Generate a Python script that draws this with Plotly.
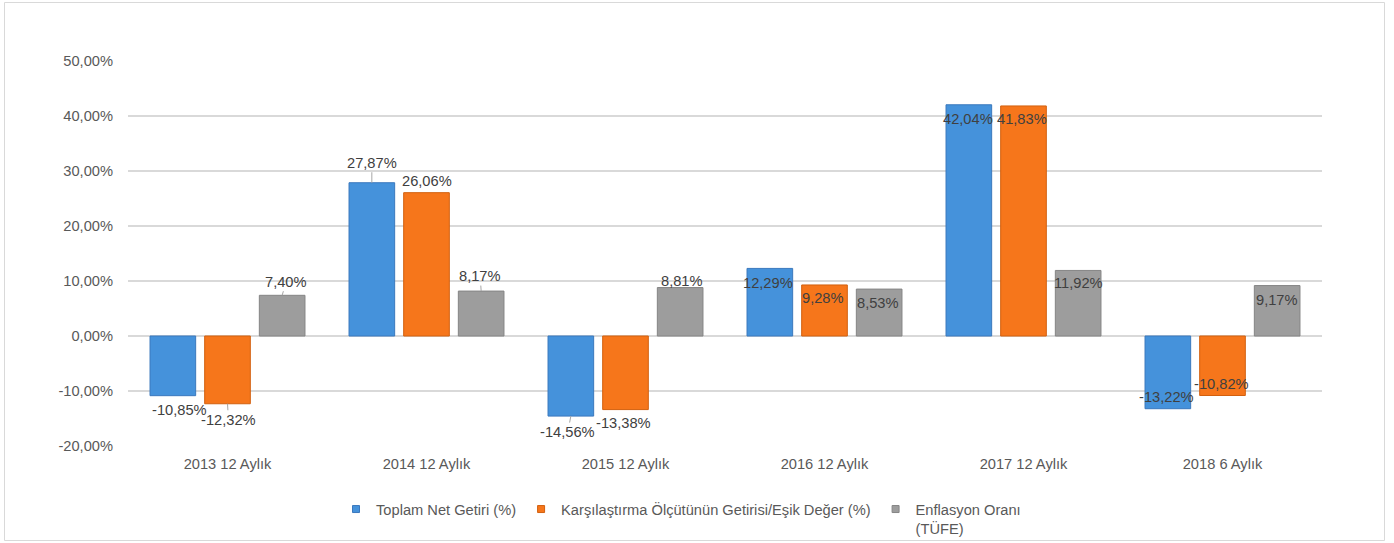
import plotly.graph_objects as go

# ---- data ----
categories = ["2013 12 Aylık", "2014 12 Aylık", "2015 12 Aylık",
              "2016 12 Aylık", "2017 12 Aylık", "2018 6 Aylık"]
series_names = ["Toplam Net Getiri (%)",
                "Karşılaştırma Ölçütünün Getirisi/Eşik Değer (%)",
                "Enflasyon Oranı<br>(TÜFE)"]
toplam_net = [-10.85, 27.87, -14.56, 12.29, 42.04, -13.22]
karsilastirma = [-12.32, 26.06, -13.38, 9.28, 41.83, -10.82]
enflasyon = [7.40, 8.17, 8.81, 8.53, 11.92, 9.17]
y_ticks = [-20, -10, 0, 10, 20, 30, 40, 50]
y_tick_labels = ["-20,00%", "-10,00%", "0,00%", "10,00%", "20,00%",
                 "30,00%", "40,00%", "50,00%"]

series_values = [toplam_net, karsilastirma, enflasyon]

# ---- styles ----
colors = ["#4592DB", "#F6761B", "#9D9D9D"]
line_colors = ["#3A78BD", "#D2600F", "#858585"]
FONT = "Liberation Sans, Arial, sans-serif"
FS = 14.67
BARGAP = 0.176
GROUPGAP = 0.165

# label offsets (pixels) relative to bar end: (dx, dy up, leader line?)
label_offsets = [
    [(7, -14, False), (0, 20, True), (-3, -16, True), (-2, -14.3, False), (-1, -14.5, False), (-1, 12, False)],
    [(1, -16, True), (0, 12, False), (-2.5, -13.4, False), (-1.5, -13, False), (-1.5, -13.4, False), (-1, 11.2, False)],
    [(4, 13.6, True), (-1, 15, True), (1.5, 6.8, False), (-1, -13.6, False), (0, -13, False), (0, -14.4, False)],
]

fig = go.Figure()
for k in range(3):
    fig.add_trace(go.Bar(
        x=categories, y=series_values[k], name=series_names[k],
        marker=dict(color=colors[k], line=dict(color=line_colors[k], width=1)),
        showlegend=False, hoverinfo="x+y",
    ))
    # legend proxy with small square symbol
    fig.add_trace(go.Scatter(
        x=[None], y=[None], mode="markers", name=series_names[k],
        marker=dict(symbol="square", size=7, color=colors[k],
                    line=dict(color=line_colors[k], width=1)),
        showlegend=True,
    ))

slot = (1 - BARGAP) / 3
annotations = []
for k in range(3):
    for i, v in enumerate(series_values[k]):
        dx, dy, leader = label_offsets[k][i]
        txt = f"{v:.2f}".replace(".", ",") + "%"
        xpos = i + (k - 1) * slot
        if leader:
            annotations.append(dict(
                x=xpos, y=v, xref="x", yref="y", text=txt,
                showarrow=True, arrowhead=0, arrowwidth=1, arrowcolor="#A6A6A6",
                ax=dx, ay=-dy, standoff=0, startstandoff=0,
                font=dict(family=FONT, size=FS, color="#404040"),
            ))
        else:
            annotations.append(dict(
                x=xpos, y=v, xref="x", yref="y", text=txt, showarrow=False,
                xshift=dx, yshift=dy, yanchor="middle",
                font=dict(family=FONT, size=FS, color="#404040"),
            ))

# outer frame (pixel positions converted to paper fractions)
L, R, T, B, W, H = 128, 72, 61, 97, 1394, 543
pw, ph = W - L - R, H - T - B
frame = dict(type="rect", xref="paper", yref="paper",
             x0=(4.5 - L) / pw, x1=(1384.5 - L) / pw,
             y0=(H - B - 540.5) / ph, y1=(H - B - 2.5) / ph,
             line=dict(color="#D9D9D9", width=1), fillcolor="rgba(0,0,0,0)",
             layer="below")

fig.update_layout(
    width=W, height=H,
    margin=dict(l=L, r=R, t=T, b=B, pad=0, autoexpand=False),
    paper_bgcolor="white", plot_bgcolor="white",
    barmode="group", bargap=BARGAP, bargroupgap=GROUPGAP,
    font=dict(family=FONT, size=FS, color="#595959"),
    annotations=annotations,
    shapes=[frame],
    legend=dict(orientation="h", xref="container", yref="container",
                x=(344 - 8) / W, xanchor="left", y=1 - 493 / H, yanchor="top",
                valign="top", font=dict(family=FONT, size=FS, color="#595959"),
                itemwidth=30, tracegroupgap=0, bgcolor="rgba(0,0,0,0)"),
    xaxis=dict(type="category", showgrid=False, showline=False, zeroline=False,
               ticks="", ticklabelstandoff=7,
               tickfont=dict(family=FONT, size=FS, color="#595959"),
               range=[-0.5, 5.5]),
    yaxis=dict(range=[-20, 50], tickvals=y_ticks, ticktext=y_tick_labels,
               showgrid=True, gridcolor="#D9D9D9", gridwidth=1.5,
               zeroline=True, zerolinecolor="#D9D9D9", zerolinewidth=1.5,
               showline=False, ticks="", ticklabelstandoff=14,
               tickfont=dict(family=FONT, size=FS, color="#595959")),
)

fig.write_html("out.html", config={"displayModeBar": False},
               post_script="document.body.style.margin='0px';")
